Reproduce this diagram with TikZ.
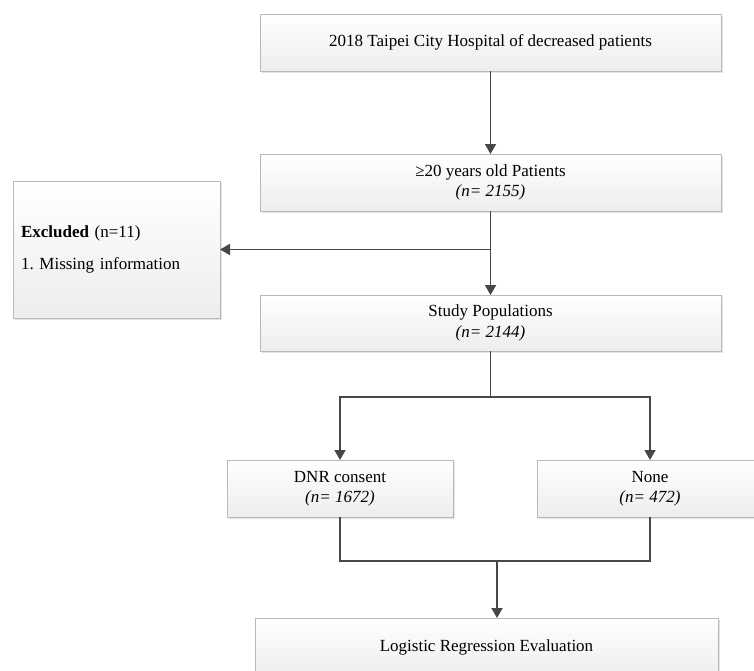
\documentclass[tikz,border=0pt]{standalone}
\usepackage{fontspec}
\setmainfont{Liberation Serif}
\usetikzlibrary{arrows.meta,shadows}

\tikzset{
  flowbox/.style={draw=gray!55, line width=0.8pt, top color=white, bottom color=gray!14,
    drop shadow={shadow xshift=1.5pt, shadow yshift=-1.5pt, fill=gray!35, opacity=0.6},
    align=center, inner sep=0pt, outer sep=0pt, font=\fontsize{17}{20.5}\selectfont},
  link/.style={draw=black!72, line width=1.8pt, -{Triangle[length=10pt,width=11pt]}},
  wire/.style={draw=black!72, line width=1.8pt}
}

\begin{document}
\begin{tikzpicture}[x=1pt,y=-1pt]
\useasboundingbox (0,0) rectangle (754,670);

% boxes
\node[flowbox, minimum width=461pt, minimum height=57pt] (hospital) at (490.5,42.5)
  {2018 Taipei City Hospital of decreased patients};
\node[flowbox, minimum width=461pt, minimum height=57pt] (adult) at (490.5,182.5)
  {≥20 years old Patients\\ \textit{(n= 2155)}};
\node[flowbox, text width=191pt, inner xsep=8pt, minimum height=137pt, align=left] (excluded) at (116.5,249.5)
  {\textbf{Excluded} (n=11)\\[11pt] 1.\ Missing information};
\node[flowbox, minimum width=461pt, minimum height=56pt] (study) at (490.5,323)
  {Study Populations\\ \textit{(n= 2144)}};
\node[flowbox, minimum width=226pt, minimum height=57pt] (dnr) at (340,488.5)
  {DNR consent\\ \textit{(n= 1672)}};
\node[flowbox, minimum width=226pt, minimum height=57pt] (none) at (650,488.5)
  {None\\ \textit{(n= 472)}};
\node[flowbox, minimum width=463pt, minimum height=58pt] (logit) at (486.5,647)
  {Logistic Regression Evaluation};

% connectors
\coordinate (fork) at (490.5,397);
\coordinate (join) at (497,561);
\draw[link] (hospital) -- (adult);
\draw[link] (adult) -- (study);
\draw[link] (adult.south |- excluded.east) -- (excluded.east);
\draw[wire] (study) -- (fork);
\draw[link] (fork) -| (dnr.north);
\draw[link] (fork) -| (none.north);
\draw[wire] (dnr.south) |- (join) -| (none.south);
\draw[link] (join) -- (join |- logit.north);
\end{tikzpicture}
\end{document}
